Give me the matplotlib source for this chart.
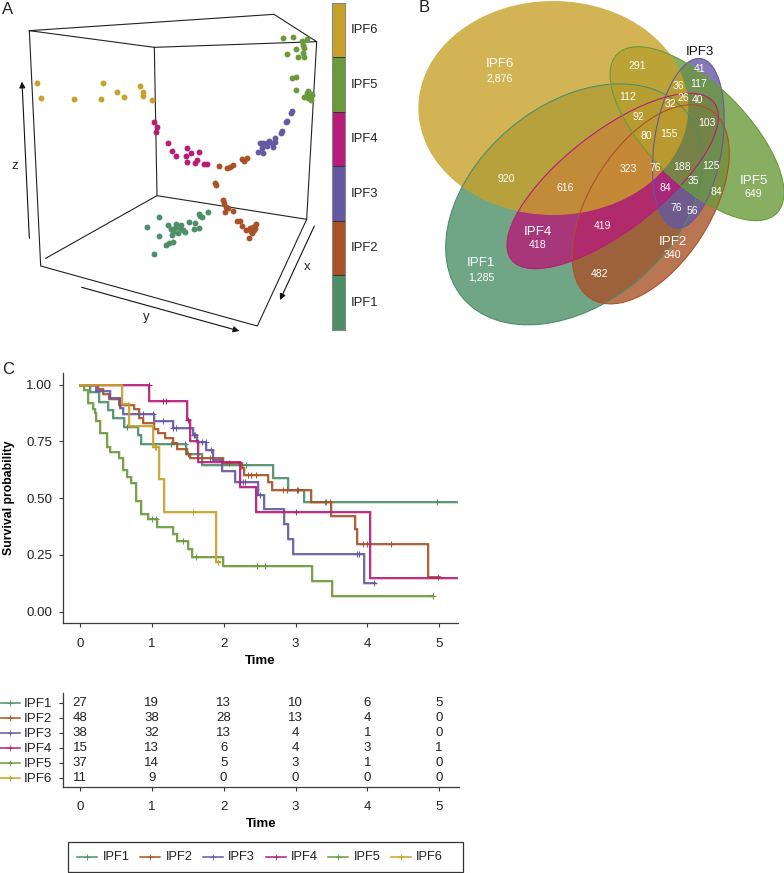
import matplotlib
matplotlib.use("Agg")
import matplotlib.pyplot as plt
from matplotlib.patches import Ellipse, Rectangle

plt.rcParams['font.family'] = ['Liberation Sans', 'DejaVu Sans']

groups = ['IPF1', 'IPF2', 'IPF3', 'IPF4', 'IPF5', 'IPF6']
colors = ['#4c8f68', '#a95228', '#6459a2', '#b71c78', '#6a9a3a', '#c9a12a']

# ---- panel A: projected positions of the samples
a_ipf6 = [(110,248),(124,293),(222,296),(303,297),(308,250),(350,277),(373,290),(421,257),(428,275),(428,288),(456,300)]
a_ipf4 = [(461,365),(470,380),(468,396),(504,430),(516,453),(527,468),(558,468),(562,445),(574,459),(596,456),(560,486),(585,488),(592,481),(612,491),(622,491)]
a_ipf2 = [(658,499),(680,504),(690,500),(698,496),(725,478),(733,482),(742,474),(645,548),(648,556),(668,601),(672,610),(678,620),(685,625),(674,635),(700,633),(712,662),(720,662),(727,677),(738,690),(750,685),(768,672),(760,680),(752,692),(765,685),(755,700),(748,715),(762,690)]
a_ipf3 = [(875,332),(872,338),(858,366),(862,362),(845,392),(842,400),(825,414),(808,424),(790,430),(780,430),(800,428),(815,430),(820,440),(785,445),(775,455),(790,460),(826,425),(800,438)]
a_ipf5 = [(848,115),(878,111),(922,117),(905,124),(908,135),(888,148),(912,145),(862,162),(908,160),(895,172),(912,170),(888,230),(876,235),(889,271),(925,272),(932,282),(912,290),(925,295),(932,300),(920,278),(936,286)]
a_ipf1 = [(478,652),(440,680),(478,709),(462,761),(505,675),(528,673),(543,675),(512,688),(520,695),(535,700),(550,690),(568,666),(584,668),(582,686),(596,683),(596,642),(606,652),(624,635),(497,736),(508,730),(520,726),(515,705),(540,685),(555,695),(600,648),(525,685)]
a_points = [a_ipf1, a_ipf2, a_ipf3, a_ipf4, a_ipf5, a_ipf6]

box_edges = [[(88,92),(822,43),(950,125),(463,142),(88,92)],
             [(88,92),(122,798),(772,978),(920,658),(950,125)],
             [(463,142),(471,587),(920,658)],
             [(471,587),(137,775)]]
axis_arrows = [((88,715),(66,245)), ((245,862),(718,993)), ((943,678),(840,900))]

# ---- panel B: Venn sets (centre x, centre y, width, height, angle)
venn_sets = {
    'IPF1': (522, 613, 872, 596, -40),
    'IPF2': (752, 613, 670, 361, -57.5),
    'IPF3': (865, 430, 514, 204, -81.6),
    'IPF4': (638, 543, 769, 296, -37.8),
    'IPF5': (891, 401, 676, 296, 45),
    'IPF6': (460, 324, 810, 642, 0),
}
venn_order = ['IPF1', 'IPF2', 'IPF3', 'IPF4', 'IPF5', 'IPF6']
venn_counts = ['291','41','36','117','112','26','40','32','92','103','155','80','323','76','188','125','920','35','616','84','84','76','56','419','482']
venn_count_x = [711,900,834,895,683,849,892,810,715,921,808,740,684,767,845,932,320,879,497,795,948,830,878,609,598]
venn_count_y = [197,207,259,252,291,293,301,313,351,369,402,409,507,503,501,498,536,544,565,565,576,623,634,678,823]
venn_names = ['IPF6','IPF1','IPF4','IPF2','IPF5']
venn_totals = ['2,876','1,285','418','340','649']
venn_name_x = [300,243,414,818,1061]
venn_name_y = [192,790,695,725,543]
venn_total_y = [235,831,736,766,583]

# ---- panel C: survival curves
ipf1_t = [0,.14,.269,.385,.464,.613,.812,.845,1.476,1.695,2.693,2.892,3.12,5.246]
ipf1_s = [1,.969,.925,.888,.854,.814,.777,.738,.694,.645,.590,.535,.484,.484]
ipf1_ct = [.65,1.263,1.46,1.51,2.31,3.41,3.43,4.97]
ipf1_cs = [.814,.738,.738,.694,.645,.484,.484,.484]

ipf2_t = [0,.255,.316,.409,.548,.752,.826,.882,1.031,1.091,1.188,1.30,1.356,1.486,1.532,1.996,2.252,2.284,2.623,2.674,3.212,3.491,3.825,3.853,4.847,5.01]
ipf2_s = [1,.979,.958,.938,.912,.891,.855,.829,.805,.785,.763,.741,.717,.694,.675,.653,.631,.601,.572,.535,.484,.421,.362,.300,.151,.151]
ipf2_ct = [.664,1.81,2.08,2.345,2.377,2.45,2.82,2.88,3.02,3.04,3.48,3.94,4.0,4.33,4.99]
ipf2_cs = [.912,.675,.653,.601,.601,.601,.535,.535,.535,.535,.484,.300,.300,.300,.151]

ipf3_t = [0,.223,.418,.557,.594,1.026,1.29,1.578,1.634,1.755,1.852,1.973,2.159,2.484,2.558,2.84,2.897,2.971,3.955,4.11]
ipf3_s = [1,.973,.939,.895,.869,.839,.810,.777,.748,.711,.669,.620,.572,.513,.45,.385,.32,.256,.127,.127]
ipf3_ct = [.88,1.02,1.15,1.29,1.34,1.58,1.60,1.70,1.75,1.83,2.275,2.30,2.51,3.85,3.89,4.087]
ipf3_cs = [.869,.869,.839,.810,.810,.777,.777,.748,.748,.711,.572,.572,.513,.256,.256,.127]

ipf4_t = [0,.965,1.485,1.53,1.64,2.23,2.45,4.04,5.25]
ipf4_s = [1,.927,.844,.751,.658,.547,.437,.146,.146]
ipf4_ct = [.965,1.16,1.19,1.50,3.01]
ipf4_cs = [1,.927,.927,.844,.437]

ipf5_t = [0,.056,.116,.176,.209,.223,.279,.371,.418,.543,.604,.65,.706,.78,.85,.942,1.068,1.30,1.346,1.509,1.555,1.996,3.23,3.51,4.92]
ipf5_s = [1,.976,.921,.892,.873,.839,.785,.726,.704,.675,.623,.594,.565,.488,.430,.407,.374,.344,.311,.274,.242,.202,.134,.068,.068]
ipf5_ct = [.998,1.054,1.43,1.61,2.47,2.58,4.91]
ipf5_cs = [.407,.407,.311,.242,.202,.202,.068]

ipf6_t = [0,.585,.68,1.02,1.105,1.175,1.89,1.95]
ipf6_s = [1,.913,.817,.726,.583,.437,.217,.217]
ipf6_ct = [1.04,1.06,1.57,1.92]
ipf6_cs = [.726,.726,.437,.217]

curves = [(ipf1_t,ipf1_s,ipf1_ct,ipf1_cs),(ipf2_t,ipf2_s,ipf2_ct,ipf2_cs),(ipf3_t,ipf3_s,ipf3_ct,ipf3_cs),
          (ipf4_t,ipf4_s,ipf4_ct,ipf4_cs),(ipf5_t,ipf5_s,ipf5_ct,ipf5_cs),(ipf6_t,ipf6_s,ipf6_ct,ipf6_cs)]

# ---- numbers at risk
time_ticks = [0,1,2,3,4,5]
surv_ticks = [0,.25,.5,.75,1]
risk_ipf1 = [27,19,13,10,6,5]
risk_ipf2 = [48,38,28,13,4,0]
risk_ipf3 = [38,32,13,4,1,0]
risk_ipf4 = [15,13,6,4,3,1]
risk_ipf5 = [37,14,5,3,1,0]
risk_ipf6 = [11,9,0,0,0,0]
risk = [risk_ipf1,risk_ipf2,risk_ipf3,risk_ipf4,risk_ipf5,risk_ipf6]

W, H = 784, 873
fig = plt.figure(figsize=(W/100, H/100), dpi=100)
def add_px_axes(l, t, r, b):
    return fig.add_axes([l/W, 1-b/H, (r-l)/W, (b-t)/H])

DARK = '#3a3a3a'
# overlay in figure pixels
ov = add_px_axes(0, 0, W, H); ov.set_xlim(0, W); ov.set_ylim(H, 0); ov.axis('off')
for s, x, y in [('A',2,9),('B',419,8),('C',2,369)]:
    ov.text(x, y, s, fontsize=12, ha='left', va='center', color='#222222')

# ---- A
axa = add_px_axes(0, 0, 400, 340); axa.set_xlim(0, 1200); axa.set_ylim(1020, 0); axa.axis('off')
for e in box_edges:
    axa.plot([p[0] for p in e], [p[1] for p in e], color='#222222', lw=0.8, solid_joinstyle='miter')
for st, en in axis_arrows:
    axa.annotate('', xy=en, xytext=st, arrowprops=dict(arrowstyle='-|>', color='#111111', lw=0.8, mutation_scale=9, shrinkA=0, shrinkB=0))
for s, x, y in [('z',45,498),('y',440,952),('x',922,800)]:
    axa.text(x, y, s, fontsize=9.5, ha='center', va='center', color='#222222')
for pts, c in zip(a_points, colors):
    axa.scatter([p[0] for p in pts], [p[1] for p in pts], s=18, color=c, linewidths=0, zorder=3)
seg = (990-8)/6
for i, (g, c) in enumerate(zip(groups[::-1], colors[::-1])):
    axa.add_patch(Rectangle((997, 8+i*seg), 39, seg, facecolor=c, edgecolor='#333333', lw=0.7))
    axa.text(1052, 8+(i+.5)*seg, g, fontsize=9.4, ha='left', va='center', color='#222222')
axa.add_patch(Rectangle((997, 8), 39, 6*seg, fill=False, edgecolor='#888888', lw=0.8))

# ---- B
axb = add_px_axes(400, 0, 784, 340); axb.set_xlim(0, 1152); axb.set_ylim(1020, 0); axb.axis('off')
for z, g in enumerate(venn_order):
    c = colors[groups.index(g)]
    cx, cy, w, h, ang = venn_sets[g]
    axb.add_patch(Ellipse((cx, cy), w, h, angle=ang, facecolor=c, alpha=0.8, edgecolor='none', zorder=2+z))
for g in venn_order[:-1]:
    c = colors[groups.index(g)]
    cx, cy, w, h, ang = venn_sets[g]
    axb.add_patch(Ellipse((cx, cy), w, h, angle=ang, fill=False, edgecolor=c, lw=0.8, zorder=10))
for s, x, y in zip(venn_counts, venn_count_x, venn_count_y):
    axb.text(x, y, s, color='white', fontsize=7.5, ha='center', va='center', zorder=12)
for n, t, x, y, yt in zip(venn_names, venn_totals, venn_name_x, venn_name_y, venn_total_y):
    axb.text(x, y, n, color='white', fontsize=9.6, ha='center', va='center', zorder=12)
    axb.text(x, yt, t, color='white', fontsize=7.6, ha='center', va='center', zorder=12)
axb.text(900, 155, 'IPF3', color='#111111', fontsize=9.6, ha='center', va='center', zorder=12)

# ---- C
axc = add_px_axes(62.5, 373, 458, 623)
axc.set_xlim(-0.244, 5.262); axc.set_ylim(-0.05, 1.051)
for (t, s, ct, cs), c in zip(curves, colors):
    axc.step(t, s, where='post', color=c, lw=2.0, alpha=0.3, solid_joinstyle='miter')
    axc.step(t, s, where='post', color=c, lw=1.25, solid_joinstyle='miter')
    axc.plot(ct, cs, ls='none', marker='+', ms=4.5, mew=0.7, color=c)
axc.set_xticks(time_ticks)
axc.set_yticks(surv_ticks)
axc.set_yticklabels(['%.2f' % v for v in surv_ticks])
axc.set_xlabel('Time', fontsize=9.5, fontweight='bold', labelpad=4)
axc.set_ylabel('Survival probability', fontsize=8.8, fontweight='bold', labelpad=8)
# ---- risk table
axr = add_px_axes(62.5, 693, 459, 787)
axr.set_xlim(-0.244, 5.276); axr.set_ylim(0.40, 6.65)
for i, row in enumerate(risk):
    for x, v in zip(time_ticks, row):
        axr.text(x, 6-i, str(v), fontsize=9.5, ha='center', va='center', color='#222222')
axr.set_xticks(time_ticks)
axr.set_yticks([6-i for i in range(6)])
axr.set_yticklabels(groups)
axr.set_xlabel('Time', fontsize=9.5, fontweight='bold', labelpad=4)
for ax, xpad in ((axc, 7.5), (axr, 7)):
    ax.spines['top'].set_visible(False); ax.spines['right'].set_visible(False)
    ax.spines['left'].set_color(DARK); ax.spines['bottom'].set_color(DARK)
    ax.spines['left'].set_linewidth(0.9); ax.spines['bottom'].set_linewidth(0.9)
    ax.tick_params(length=3, width=0.8, color=DARK, labelsize=9.6, labelcolor='#222222')
    ax.tick_params(axis='x', pad=xpad)
    ax.tick_params(axis='y', pad=4.5)
    ax.patch.set_alpha(0)
# keyed line samples beside the table rows
for i, (g, c) in enumerate(zip(groups, colors)):
    yy = 702.7 + i*15.05
    ov.plot([0, 20], [yy, yy], color=c, lw=1.1, clip_on=False)
    ov.plot([10], [yy], marker='+', ms=5, mew=0.6, color=c)

# ---- legend
ov.add_patch(Rectangle((67.7, 841.7), 395.3, 30, fill=False, edgecolor='#333333', lw=0.9))
leg_x = [77, 140, 202.7, 265.7, 328.3, 390.7]
for g, c, x in zip(groups, colors, leg_x):
    ov.plot([x, x+20], [857, 857], color=c, lw=1.1)
    ov.plot([x+10], [857], marker='+', ms=5, mew=0.6, color=c)
    ov.text(x+25.5, 857, g, fontsize=9.3, ha='left', va='center', color='#222222')

fig.savefig('out.png', dpi=100)
